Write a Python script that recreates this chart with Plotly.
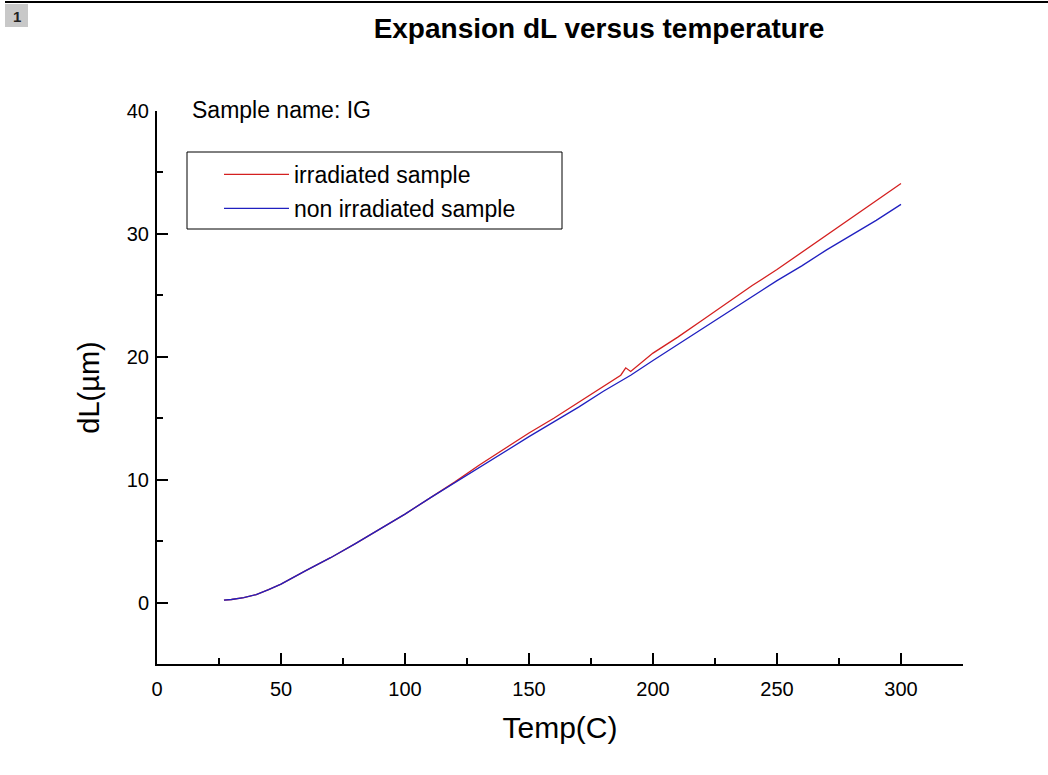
import plotly.graph_objects as go

# Temperature (C)
temp = [27, 30, 35, 40, 45, 50, 60, 70, 80, 90, 100, 110, 120, 130, 140, 150, 160,
        170, 180, 187, 189, 191, 200, 210, 220, 230, 240, 250, 260, 270, 280, 290, 300]
# dL (um)
dl_irr = [0.2, 0.25, 0.4, 0.65, 1.05, 1.5, 2.6, 3.65, 4.8, 6.0, 7.2, 8.5, 9.8, 11.2, 12.5,
          13.8, 15.0, 16.3, 17.6, 18.5, 19.1, 18.8, 20.3, 21.6, 23.0, 24.4, 25.8, 27.1,
          28.5, 29.9, 31.3, 32.7, 34.1]
dl_non = [0.2, 0.25, 0.4, 0.65, 1.05, 1.5, 2.6, 3.65, 4.8, 6.0, 7.2, 8.5, 9.75, 11.0, 12.3,
          13.5, 14.7, 15.9, 17.2, 18.0, 18.25, 18.5, 19.7, 21.0, 22.3, 23.6, 24.9, 26.2,
          27.4, 28.7, 29.9, 31.1, 32.4]

x_ticks = [0, 50, 100, 150, 200, 250, 300]
y_ticks = [0, 10, 20, 30, 40]

FONT = "Liberation Sans, Arial, sans-serif"

fig = go.Figure()
fig.add_trace(go.Scatter(x=temp, y=dl_irr, mode="lines", name="irradiated sample",
                         line=dict(color="#d42020", width=1.3), legendgroup="a"))
fig.add_trace(go.Scatter(x=temp, y=dl_non, mode="lines", name="non irradiated sample",
                         line=dict(color="#2020c0", width=1.3), legendgroup="b"))

axis_common = dict(showline=True, linecolor="black", linewidth=2, ticks="inside",
                   tickwidth=2, tickcolor="black", showgrid=False, zeroline=False,
                   mirror=False, tickfont=dict(family=FONT, size=20, color="black"))

fig.update_xaxes(range=[0, 325], tickvals=x_ticks, ticklen=11, ticklabelstandoff=6,
                 minor=dict(ticks="inside", dtick=25, ticklen=6, tickwidth=2, tickcolor="black"),
                 title=dict(text="Temp(C)", font=dict(family=FONT, size=30, color="black"), standoff=18),
                 **axis_common)
fig.update_yaxes(range=[-5, 40], tickvals=y_ticks, ticklen=11, ticklabelstandoff=2,
                 minor=dict(ticks="inside", dtick=5, ticklen=6, tickwidth=2, tickcolor="black"),
                 title=dict(text="dL(µm)", font=dict(family=FONT, size=29, color="black"), standoff=19),
                 **axis_common)

fig.update_layout(
    width=1048, height=775,
    margin=dict(l=157, r=85, t=111, b=111),
    paper_bgcolor="white", plot_bgcolor="white",
    title=dict(text="<b>Expansion dL versus temperature</b>", x=599 / 1048, xref="container",
               xanchor="center", y=1 - 28 / 775, yanchor="middle",
               font=dict(family=FONT, size=28, color="black")),
    showlegend=True,
    legend=dict(x=(219 - 157) / 806, y=1 - (153 - 111) / 553, xanchor="left", yanchor="top",
                bgcolor="rgba(0,0,0,0)", borderwidth=0, tracegroupgap=1,
                traceorder="grouped", itemwidth=65,
                font=dict(family=FONT, size=23, color="black")),
    shapes=[
        dict(type="rect", xref="paper", yref="paper",
             x0=(187 - 157) / 806, x1=(562 - 157) / 806,
             y0=1 - (229 - 111) / 553, y1=1 - (152 - 111) / 553,
             line=dict(color="black", width=1)),
        dict(type="line", xref="paper", yref="paper", x0=-157 / 806 + 5 / 806, x1=(1048 - 157) / 806,
             y0=1 + (111 - 2) / 553, y1=1 + (111 - 2) / 553, line=dict(color="black", width=2)),
        dict(type="rect", xref="paper", yref="paper", x0=(5 - 157) / 806, x1=(28 - 157) / 806,
             y0=1 + (111 - 27) / 553, y1=1 + (111 - 4) / 553,
             fillcolor="#c8c8c8", line=dict(width=0)),
    ],
    annotations=[
        dict(text="Sample name: IG", xref="paper", yref="paper", x=(190 - 157) / 806,
             y=1 + (111 - 110) / 553, xanchor="left", yanchor="middle", showarrow=False,
             font=dict(family=FONT, size=23, color="black")),
        dict(text="<b>1</b>", xref="paper", yref="paper", x=(16.5 - 157) / 806,
             y=1 + (111 - 16) / 553, xanchor="center", yanchor="middle", showarrow=False,
             font=dict(family=FONT, size=15, color="#222222")),
    ],
)

fig.write_html("out.html")
